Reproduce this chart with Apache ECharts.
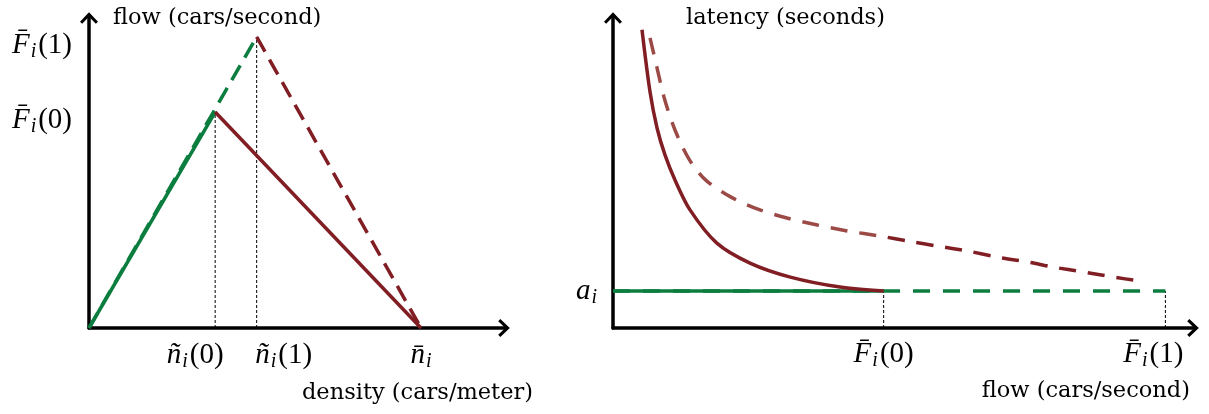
<!DOCTYPE html>
<html>
<head>
<meta charset="utf-8">
<script src="https://cdn.jsdelivr.net/npm/echarts@6/dist/echarts.min.js"></script>
<style>
  html, body { margin: 0; padding: 0; background: #fff; }
  #chart { width: 1209px; height: 414px; }
</style>
</head>
<body>
<div id="chart"></div>
<script>
// ---- Fundamental diagram (flow vs density) ----
const criticalDensity = [0.38, 0.505];   // ñ_i(0), ñ_i(1)
const jamDensity = 1;                    // n̄_i
const capacity = [0.742, 1];             // F̄_i(0), F̄_i(1)

// ---- Latency vs flow ----
const freeFlowLatency = 1;               // a_i
const capacityFlow = [0.49, 1];          // F̄_i(0), F̄_i(1)
const congestedLatency0 = [
  [0.0525, 8.08], [0.067, 6.4], [0.0797, 5.42], [0.0941, 4.69], [0.1122, 4.01],
  [0.1394, 3.2], [0.188, 2.30], [0.248, 1.76], [0.321, 1.38], [0.411, 1.11], [0.49, 1.0]
];
const congestedLatency1 = [
  [0.067, 7.86], [0.0797, 7.05], [0.0923, 6.26], [0.1068, 5.58], [0.1231, 4.99],
  [0.143, 4.45], [0.170, 3.98], [0.217, 3.52], [0.266, 3.20], [0.315, 2.98], [0.370, 2.79],
  [0.424, 2.63], [0.484, 2.49], [0.533, 2.36], [0.587, 2.22], [0.641, 2.09],
  [0.696, 1.92], [0.750, 1.79], [0.797, 1.65], [0.851, 1.52], [0.906, 1.38], [0.955, 1.27]
];

// Tick label pieces: [symbol, subscript, argument]
const criticalDensityLabels = [['ñ', 'i', '(0)'], ['ñ', 'i', '(1)']];
const jamDensityLabel = ['n\u0304', 'i', ''];
const capacityTickLabels = [['F\u0304', 'i', '(0)'], ['F\u0304', 'i', '(1)']];
const latencyTickLabel = ['a', 'i', ''];

const RED = '#801e24';
const RED_LIGHT = '#9c4a46';
const GREEN = '#0b7d3f';
const SERIF = '"Liberation Serif", "DejaVu Serif", serif';
const TEXT_SERIF = '"DejaVu Serif", serif';

// open chevron arrow head for the axis ends
const chevron = 'path://M10 0L20 10.5L17.6 12.9L10 5.1L2.4 12.9L0 10.5Z';

const rich = {
  m:  { fontFamily: SERIF, fontStyle: 'italic', fontSize: 29, color: '#000' },
  s:  { fontFamily: SERIF, fontStyle: 'italic', fontSize: 20, color: '#000', padding: [13, 0, 0, 1] },
  r:  { fontFamily: SERIF, fontSize: 29, color: '#000', padding: [0, 0, 0, 2] },
  md: { fontFamily: SERIF, fontStyle: 'italic', fontSize: 29, color: '#000', padding: [16, 0, 0, 0] },
  sd: { fontFamily: SERIF, fontStyle: 'italic', fontSize: 20, color: '#000', padding: [29, 0, 0, 1] },
  rd: { fontFamily: SERIF, fontSize: 29, color: '#000', padding: [16, 0, 0, 2] },
  gl54: { width: 54 },
  gr40: { width: 40 },
  gr24: { width: 24 }
};

function mathLabel(parts, opts) {
  const o = opts || {};
  const d = o.down ? 'd' : '';
  let str = '{m' + d + '|' + parts[0] + '}{s' + d + '|' + parts[1] + '}';
  if (parts[2]) str += '{r' + d + '|' + parts[2] + '}';
  if (o.left) str = '{' + o.left + '| }' + str;
  if (o.right) str = str + '{' + o.right + '| }';
  return str;
}

function pick(values, labels, v) {
  let best = 0;
  values.forEach(function (x, i) { if (Math.abs(x - v) < Math.abs(values[best] - v)) best = i; });
  return labels[best];
}

// the two critical-density labels sit close together, so spacers push them apart
const criticalLabelText = [
  mathLabel(criticalDensityLabels[0], { right: 'gr40' }),
  mathLabel(criticalDensityLabels[1], { left: 'gl54' })
];
const capacityLabelText = [
  mathLabel(capacityTickLabels[0], { down: true }),
  mathLabel(capacityTickLabels[1], { down: true })
];
const flowLabelText = [
  mathLabel(capacityTickLabels[0]),
  mathLabel(capacityTickLabels[1], { right: 'gr24' })
];

function axisLine() {
  return {
    show: true,
    onZero: true,
    lineStyle: { color: '#000', width: 3.5 },
    symbol: ['none', chevron],
    symbolSize: [18, 12]
  };
}

const nameStyle = { fontFamily: TEXT_SERIF, fontSize: 22.5, color: '#000' };

function line(idx, data, color, dashed, extra) {
  return Object.assign({
    type: 'line',
    xAxisIndex: idx,
    yAxisIndex: idx,
    data: data,
    symbol: 'none',
    silent: true,
    animation: false,
    lineStyle: { color: color, width: 3.5, type: dashed ? dashed : 'solid', cap: 'butt' }
  }, extra || {});
}

const guideStyle = { lineStyle: { color: '#000', width: 1, type: [3, 2] } };

const chart = echarts.init(document.getElementById('chart'), null, { renderer: 'canvas' });

chart.setOption({
  backgroundColor: '#fff',
  animation: false,
  grid: [
    { left: 89, top: 18, width: 415, height: 310 },
    { left: 613, top: 18, width: 580, height: 310 }
  ],
  xAxis: [
    {
      gridIndex: 0, type: 'value', min: 0, max: 1.25,
      axisLine: axisLine(), axisTick: { show: false }, splitLine: { show: false },
      axisLabel: {
        customValues: [jamDensity], margin: 11, rich: rich,
        formatter: function () { return mathLabel(jamDensityLabel); }
      },
      name: 'density (cars/meter)', nameLocation: 'end', nameGap: 29,
      nameTextStyle: Object.assign({ align: 'right', verticalAlign: 'top', padding: [54, 0, 0, 0] }, nameStyle)
    },
    {
      gridIndex: 1, type: 'value', min: 0, max: 1.05,
      axisLine: axisLine(), axisTick: { show: false }, splitLine: { show: false },
      axisLabel: {
        customValues: capacityFlow, margin: 10, rich: rich,
        formatter: function (v) { return pick(capacityFlow, flowLabelText, v); }
      },
      name: 'flow (cars/second)', nameLocation: 'end', nameGap: -3,
      nameTextStyle: Object.assign({ align: 'right', verticalAlign: 'top', padding: [52, 0, 0, 0] }, nameStyle)
    }
  ],
  yAxis: [
    {
      gridIndex: 0, type: 'value', min: 0, max: 1.065,
      axisLine: axisLine(), axisTick: { show: false }, splitLine: { show: false },
      axisLabel: {
        customValues: capacity, margin: 17, rich: rich,
        formatter: function (v) { return pick(capacity, capacityLabelText, v); }
      },
      name: 'flow (cars/second)', nameLocation: 'end', nameGap: 0,
      nameTextStyle: Object.assign({ align: 'left', verticalAlign: 'middle', padding: [0, 0, 0, 24] }, nameStyle)
    },
    {
      gridIndex: 1, type: 'value', min: 0, max: 8.4,
      axisLine: axisLine(), axisTick: { show: false }, splitLine: { show: false },
      axisLabel: {
        customValues: [freeFlowLatency], margin: 16, rich: rich,
        formatter: function () { return mathLabel(latencyTickLabel); }
      },
      name: 'latency (seconds)', nameLocation: 'end', nameGap: 0,
      nameTextStyle: Object.assign({ align: 'left', verticalAlign: 'middle', padding: [0, 0, 0, 73] }, nameStyle)
    }
  ],
  series: [
    // flow-density: guide lines at the critical densities
    line(0, [[criticalDensity[0], 0], [criticalDensity[0], capacity[0]]], '#000', null, guideStyle),
    line(0, [[criticalDensity[1], 0], [criticalDensity[1], capacity[1]]], '#000', null, guideStyle),
    // free-flow branches
    line(0, [[0, 0], [criticalDensity[0], capacity[0]]], GREEN),
    line(0, [[0, 0], [criticalDensity[1], capacity[1]]], GREEN, [17, 9]),
    // congested branches
    line(0, [[criticalDensity[1], capacity[1]], [jamDensity, 0]], RED, [17, 9]),
    line(0, [[criticalDensity[0], capacity[0]], [jamDensity, 0]], RED),
    // critical-density labels under the density axis
    {
      type: 'scatter', xAxisIndex: 0, yAxisIndex: 0, silent: true, animation: false,
      symbolSize: 0, clip: false,
      itemStyle: { opacity: 1 },
      data: criticalDensity.map(function (x) { return [x, 0]; }),
      label: {
        show: true, position: 'bottom', distance: 11, rich: rich, color: '#000',
        formatter: function (p) { return criticalLabelText[p.dataIndex]; }
      },
      labelLayout: { hideOverlap: false }
    },

    // latency-flow: guide lines at the capacities
    line(1, [[capacityFlow[0], 0], [capacityFlow[0], freeFlowLatency]], '#000', null, guideStyle),
    line(1, [[capacityFlow[1], 0], [capacityFlow[1], freeFlowLatency]], '#000', null, guideStyle),
    // free-flow latency
    line(1, [[0, freeFlowLatency], [capacityFlow[1], freeFlowLatency]], GREEN, [17, 13]),
    line(1, [[0, freeFlowLatency], [capacityFlow[0], freeFlowLatency]], GREEN),
    // congested latency
    line(1, congestedLatency0, RED, null, { smooth: 0.3 }),
    line(1, congestedLatency1, RED, null, {
      smooth: 0.3,
      lineStyle: {
        width: 3.5, type: [17, 12], cap: 'butt',
        color: new echarts.graphic.LinearGradient(0, 0, 1, 0, [
          { offset: 0, color: RED_LIGHT }, { offset: 0.46, color: RED_LIGHT },
          { offset: 0.49, color: RED }, { offset: 1, color: RED }
        ])
      }
    })
  ]
});
</script>
</body>
</html>
